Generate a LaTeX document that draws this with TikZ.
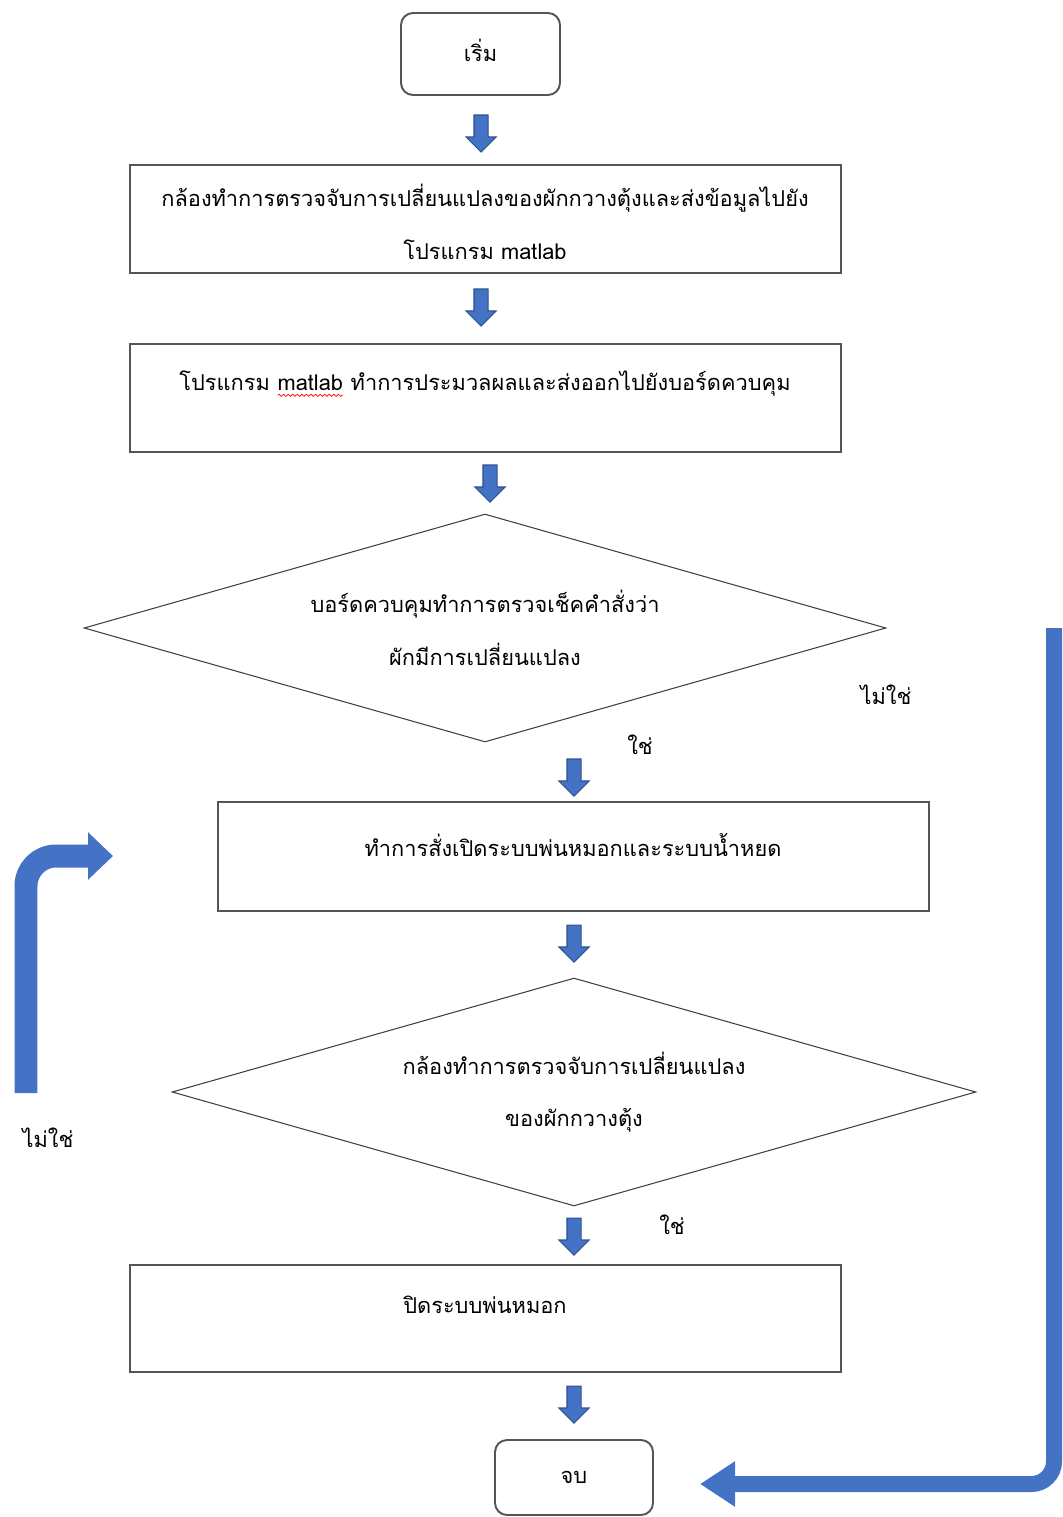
\documentclass[tikz,border=0pt]{standalone}
\usepackage{fontspec}
\newfontfamily\thaifont[Script=Thai]{Loma}
\usetikzlibrary{shapes.geometric,shapes.arrows,arrows.meta,calc,decorations.pathmorphing}
\definecolor{flowblue}{HTML}{4472C4}
\definecolor{flowedge}{HTML}{2F528F}
\definecolor{boxedge}{HTML}{555555}
% red wavy spell-check underline
\newcommand\spellmark[1]{\tikz[baseline=(sw.base),x=1cm,y=1cm]{%
  \node[inner sep=0,outer sep=0] (sw) {#1};
  \draw[red,line width=0.4pt,decorate,decoration={snake,amplitude=0.6pt,segment length=2.6pt}]
    ([yshift=-2.5pt]sw.base west) -- ([yshift=-2.5pt]sw.base east);}}

\begin{document}
\begin{tikzpicture}[x=0.02cm,y=-0.02cm,
  font=\thaifont\fontsize{12.4pt}{30pt}\selectfont,
  stepbox/.style={draw=boxedge,line width=1.1pt,minimum width=14.22cm,minimum height=2.16cm,inner sep=0},
  termbox/.style={draw=boxedge,line width=1.1pt,rounded corners=0.24cm,inner sep=0},
  decision/.style={draw=black!75,line width=0.6pt,diamond,aspect=3.5,inner sep=0,align=center},
  txt/.style={inner sep=0,align=center},
  flowarrow/.style={single arrow,shape border rotate=270,fill=flowblue,draw=flowedge,line width=0.6pt,
    minimum height=0.74cm,inner sep=0.13cm,single arrow head extend=0.16cm},
  bigarrow/.style={draw=flowblue,line cap=butt}]

\useasboundingbox (0,0) rectangle (1062,1517);

% process steps
\node[termbox,minimum width=3.18cm,minimum height=1.64cm] (start) at (480.5,54) {};
\node[stepbox] (b1) at (485.5,219) {};
\node[stepbox] (b2) at (485.5,398) {};
\node[decision,minimum width=16.04cm,minimum height=4.56cm] (d1) at (485,628)
  {บอร์ดควบคุมทำการตรวจเช็คคำสั่งว่า\\ผักมีการเปลี่ยนแปลง};
\node[stepbox,minimum height=2.18cm] (b3) at (573.5,856.5) {};
\node[decision,minimum width=16.08cm,minimum height=4.56cm] (d2) at (574,1092)
  {กล้องทำการตรวจจับการเปลี่ยนแปลง\\ของผักกวางตุ้ง};
\node[stepbox,minimum height=2.14cm] (b4) at (485.5,1318.5) {};
\node[termbox,minimum width=3.16cm,minimum height=1.5cm] (end) at (574,1477.5) {};

% step texts
\node[txt] (startt) at (480.5,50) {เริ่ม};
\node[txt] (b1t) at (485,222) {กล้องทำการตรวจจับการเปลี่ยนแปลงของผักกวางตุ้งและส่งข้อมูลไปยัง\\โปรแกรม matlab};
\node[txt] (b2t) at (485,384) {โปรแกรม \spellmark{matlab} ทำการประมวลผลและส่งออกไปยังบอร์ดควบคุม};
\node[txt] (b3t) at (573,845) {ทำการสั่งเปิดระบบพ่นหมอกและระบบน้ำหยด};
\node[txt] (b4t) at (485,1305) {ปิดระบบพ่นหมอก};
\node[txt] (endt) at (574,1477) {จบ};

% branch labels
\node[txt] (no1) at (886,695) {ไม่ใช่};
\node[txt] (yes1) at (640,745) {ใช่};
\node[txt] (yes2) at (672,1225) {ใช่};
\node[txt] (no2) at (48,1138) {ไม่ใช่};

% block arrows between steps
\node[flowarrow] (a1) at (481,130) {};
\node[flowarrow] (a2) at (481,304) {};
\node[flowarrow] (a3) at (490,480) {};
\node[flowarrow] (a4) at (574,774) {};
\node[flowarrow] (a5) at (574,940) {};
\node[flowarrow] (a6) at (574,1233) {};
\node[flowarrow] (a7) at (574,1401) {};

% loop back to the spraying step
\coordinate (loopfrom) at (26,1093);
\coordinate (loopto) at (113,856);
\draw[bigarrow,line width=0.46cm,rounded corners=0.6cm,-{Triangle[length=0.5cm,width=0.92cm]}]
  (loopfrom) |- (loopto);

% exit to the end
\coordinate (exitfrom) at (1054,628);
\coordinate (exitto) at (700,1484);
\draw[bigarrow,line width=0.32cm,rounded corners=0.45cm,-{Triangle[length=0.7cm,width=0.86cm]}]
  (exitfrom) |- (exitto);
\end{tikzpicture}
\end{document}
